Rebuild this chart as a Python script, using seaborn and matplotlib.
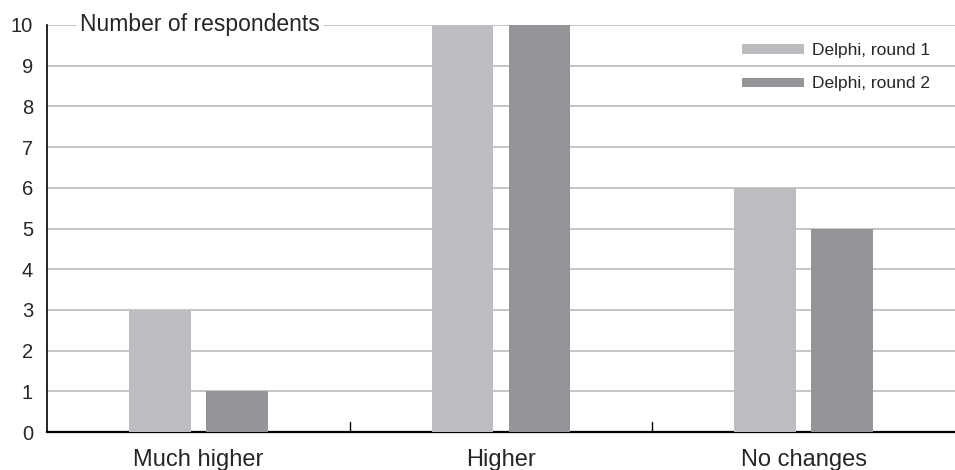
import matplotlib
matplotlib.use("Agg")
import matplotlib.pyplot as plt
import seaborn as sns
import pandas as pd
from matplotlib.patches import Patch

categories = ["Much higher", "Higher", "No changes"]
series = ["Delphi, round 1", "Delphi, round 2"]
round1 = [3, 10, 6]
round2 = [1, 10, 5]
yticks = list(range(0, 11))
colors = ["#bcbdc0", "#939598"]

df = pd.DataFrame({
    "category": categories * 2,
    "series": [series[0]] * 3 + [series[1]] * 3,
    "value": round1 + round2,
})

sns.set_style("white")
plt.rcParams["font.family"] = ["Liberation Sans", "DejaVu Sans"]

fig = plt.figure(figsize=(9.55, 4.7), dpi=100)
ax = fig.add_axes([47 / 955, 38 / 470, 908 / 955, 407 / 470])

sns.barplot(data=df, x="category", y="value", hue="series", order=categories,
            hue_order=series, palette=colors, width=0.51, gap=0.2,
            saturation=1, ax=ax, legend=False, zorder=3,
            edgecolor="none", linewidth=0)

ax.set_xlim(-0.5, 2.5)
ax.set_ylim(0, 10)
ax.set_yticks(yticks)
ax.set_yticklabels([str(t) for t in yticks], fontsize=14.5)
ax.set_xlabel("")
ax.set_ylabel("")
ax.set_xticks(range(3))
ax.set_xticklabels(categories, fontsize=17)
ax.tick_params(axis="x", length=0, pad=12)
ax.tick_params(axis="y", length=0, pad=10)
ax.grid(axis="y", color="#b5b5b5", linewidth=1.1, zorder=0)
ax.set_axisbelow(True)

for s in ["top", "right"]:
    ax.spines[s].set_visible(False)
ax.spines["left"].set_color("black")
ax.spines["left"].set_linewidth(1.2)
ax.spines["bottom"].set_color("black")
ax.spines["bottom"].set_linewidth(1.6)

# inward separator ticks between categories
for xb in [0.5, 1.5]:
    ax.plot([xb, xb], [0, 0.25], color="black", linewidth=1.0, zorder=4, clip_on=False)

ax.text(33 / 908, 1.0, "Number of respondents", transform=ax.transAxes,
        fontsize=16.5, va="center", ha="left", zorder=5,
        bbox=dict(facecolor="white", edgecolor="none", pad=3))

handles = [Patch(facecolor=c, edgecolor="none") for c in colors]
leg = ax.legend(handles, series, loc="upper right", bbox_to_anchor=(0.9855, 0.985),
                frameon=False, fontsize=12.5, handlelength=3.55, handleheight=0.45,
                labelspacing=1.05, handletextpad=0.45, borderaxespad=0.3)

fig.savefig("out.png", dpi=100)
